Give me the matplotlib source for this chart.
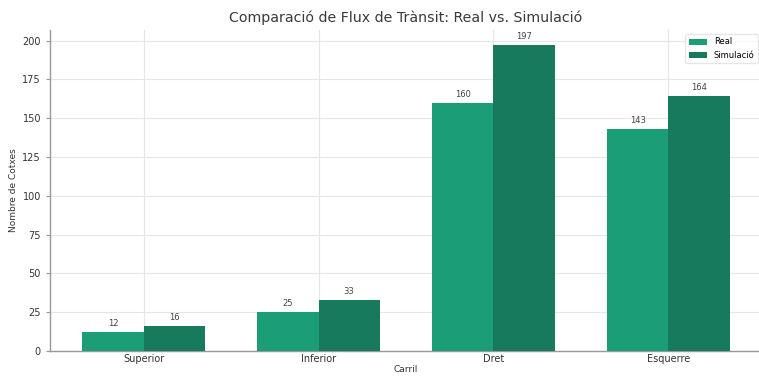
import matplotlib
matplotlib.use("Agg")
import matplotlib.pyplot as plt
import numpy as np

lanes = ["Superior", "Inferior", "Dret", "Esquerre"]
real_counts = [12, 25, 160, 143]
sim_counts = [16, 33, 197, 164]
series_names = ["Real", "Simulació"]

W, H = 759, 377
fig = plt.figure(figsize=(W / 100, H / 100), dpi=100)
ax = fig.add_axes([50 / W, (H - 351) / H, 712 / W, 321 / H])

x = np.arange(len(lanes))
width = 0.35
c_real = "#1b9e77"
c_sim = "#177a5d"

b1 = ax.bar(x - width / 2, real_counts, width, color=c_real, label=series_names[0], zorder=3)
b2 = ax.bar(x + width / 2, sim_counts, width, color=c_sim, label=series_names[1], zorder=3)

for bars in (b1, b2):
    for rect in bars:
        h = rect.get_height()
        ax.annotate(f"{h:.0f}", (rect.get_x() + rect.get_width() / 2, h),
                    xytext=(0, 3), textcoords="offset points",
                    ha="center", va="bottom", fontsize=6, color="#444444")

ax.set_xticks(x)
ax.set_xticklabels(lanes, fontsize=7, color="#333333")
ax.tick_params(axis="y", labelsize=7, labelcolor="#333333", length=3, color="#999999")
ax.tick_params(axis="x", length=0, pad=2)
ax.set_yticks(np.arange(0, 201, 25))

ax.set_xlabel("Carril", fontsize=6.5, color="#333333", labelpad=1)
ax.set_ylabel("Nombre de Cotxes", fontsize=6.5, color="#333333", labelpad=3)
ax.set_title("Comparació de Flux de Trànsit: Real vs. Simulació", fontsize=10.2, color="#3a3a3a", pad=6)

ax.grid(True, color="#e6e6e6", linewidth=0.8, zorder=0)
for s in ("top", "right"):
    ax.spines[s].set_visible(False)
for s in ("left", "bottom"):
    ax.spines[s].set_color("#999999")
    ax.spines[s].set_linewidth(1.0)

leg = ax.legend(fontsize=6, loc="upper right", frameon=True, handlelength=2.2)
leg.get_frame().set_edgecolor("#e0e0e0")

fig.savefig("out.png", dpi=100)
